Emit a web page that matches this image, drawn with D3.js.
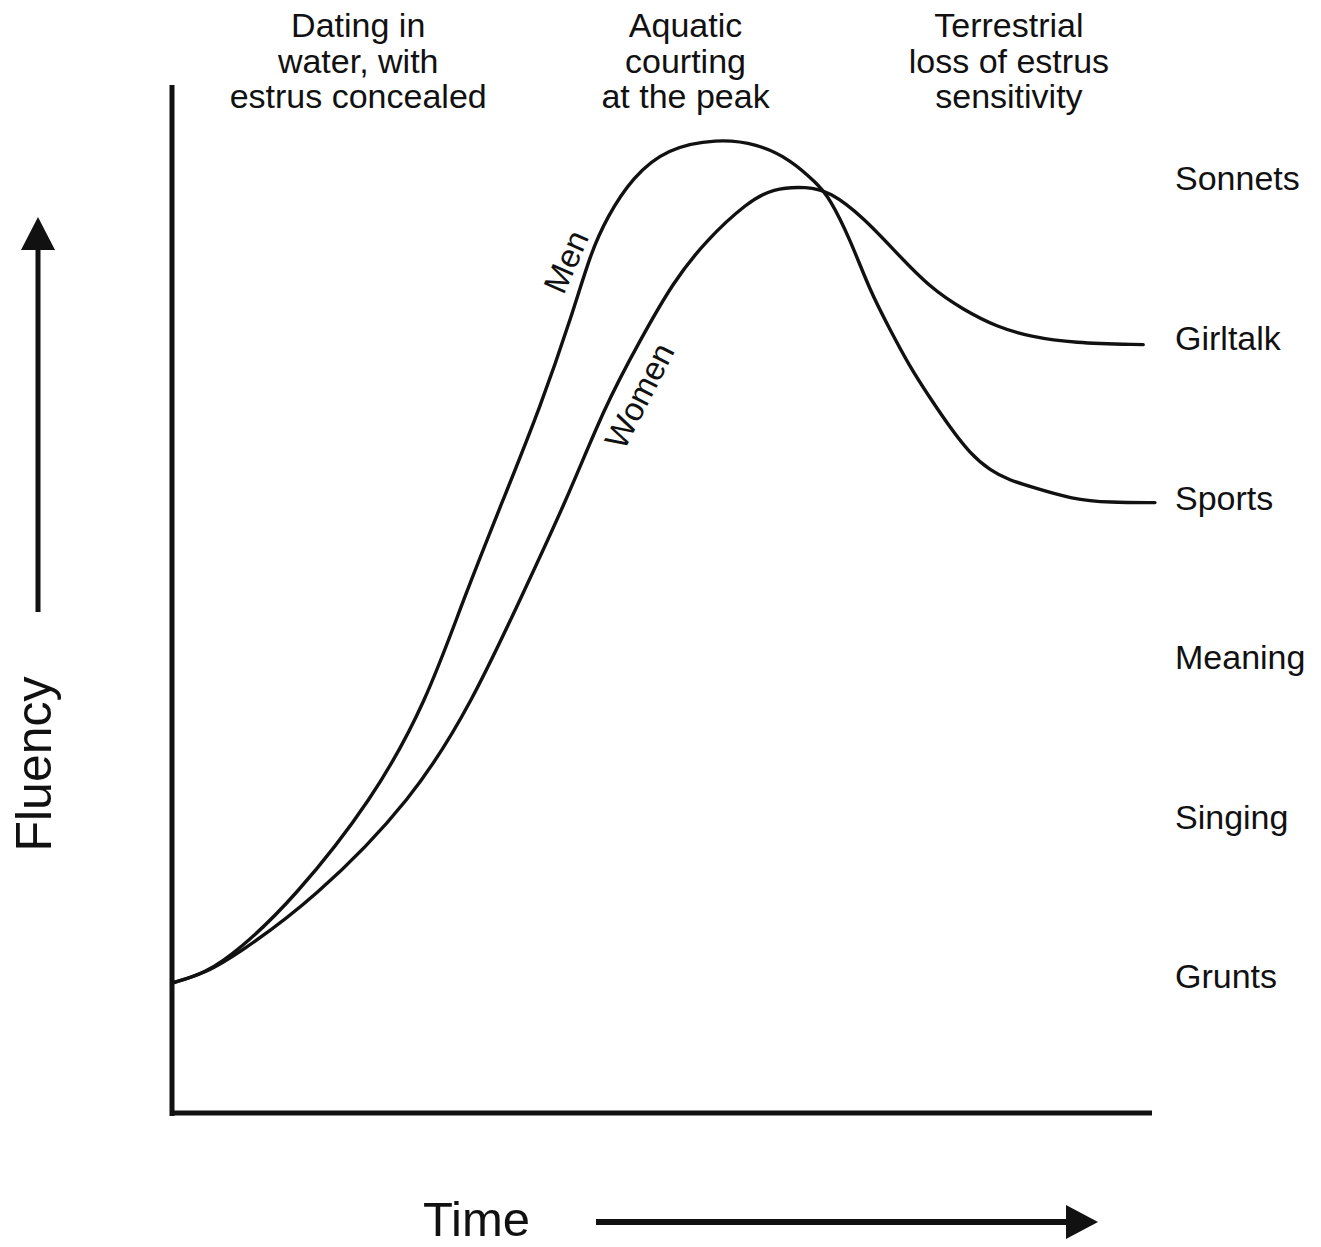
<!DOCTYPE html>
<html>
<head>
<meta charset="utf-8">
<script src="https://cdn.jsdelivr.net/npm/d3@7"></script>
<style>
  body { margin: 0; background: #fff; }
  text { font-family: "Liberation Sans", Arial, sans-serif; fill: #111; }
</style>
</head>
<body>
<svg id="chart" width="1321" height="1247"></svg>
<script>
// fluency levels, bottom to top
const levels = ["Grunts", "Singing", "Meaning", "Sports", "Girltalk", "Sonnets"];

// time (0-100) and fluency (level units)
const menTime = [0, 3.4, 6.9, 12.3, 20.5, 26.0, 29.7, 33.8, 37.6, 40.9, 42.7, 44.4, 47.0, 50.5, 55.6,
  59.7, 63.1, 65.8, 67.1, 69.2, 71.2, 73.3, 75.3, 77.3, 79.4, 81.4, 83.5, 85.5, 87.6, 91.9, 95.7, 100.3];
const menFluency = [1.00, 1.06, 1.21, 1.52, 2.15, 2.77, 3.40, 4.03, 4.61, 5.20, 5.57, 5.80, 6.05, 6.23, 6.29,
  6.26, 6.16, 6.01, 5.92, 5.66, 5.34, 5.09, 4.86, 4.67, 4.48, 4.32, 4.21, 4.15, 4.11, 4.03, 4.01, 4.01];

const womenTime = [0, 3.4, 6.9, 14.4, 24.6, 30.7, 35.5, 40.3, 44.2, 47.8, 51.1, 54.6, 58.7, 61.3, 64.8,
  67.1, 70.5, 74.0, 77.3, 80.7, 84.2, 87.6, 91.9, 99.1];
const womenFluency = [1.00, 1.06, 1.19, 1.52, 2.15, 2.77, 3.40, 4.03, 4.62, 5.03, 5.39, 5.66, 5.89, 5.98, 5.99,
  5.96, 5.80, 5.57, 5.36, 5.22, 5.11, 5.05, 5.01, 5.00];

// phase notes along the top
const phaseTime = [19.0, 52.4, 85.4];
const phaseLines = [
  ["Dating in", "water, with", "estrus concealed"],
  ["Aquatic", "courting", "at the peak"],
  ["Terrestrial", "loss of estrus", "sensitivity"]
];

// curve names written along the curves
const curveNames = ["Men", "Women"];
const curveNameTime = [40.2, 47.7];
const curveNameFluency = [5.52, 4.68];

const svg = d3.select("#chart");

const x = d3.scaleLinear().domain([0, 100]).range([172, 1152]);
const y = d3.scaleLinear().domain([1, 6]).range([983, 185]);

// frame
svg.append("line")
  .attr("x1", 172).attr("x2", 172).attr("y1", 85).attr("y2", 1116)
  .attr("stroke", "#111").attr("stroke-width", 5);

const xAxis = svg.append("g")
  .attr("transform", "translate(0,1113)")
  .call(d3.axisBottom(x).tickValues([]).tickSizeOuter(0));
xAxis.select(".domain")
  .attr("stroke", "#111").attr("stroke-width", 5)
  .attr("d", "M170,0H" + x(100));

// curves
const line = d3.line()
  .x(d => x(d[0]))
  .y(d => y(d[1]))
  .curve(d3.curveBasis);

const series = [d3.zip(menTime, menFluency), d3.zip(womenTime, womenFluency)];

svg.selectAll(".curve")
  .data(series)
  .join("path")
  .attr("class", "curve")
  .attr("d", line)
  .attr("fill", "none")
  .attr("stroke", "#111")
  .attr("stroke-width", 3.4)
  .attr("stroke-linecap", "round");

// names on the curves
svg.selectAll(".curveName")
  .data(curveNames)
  .join("text")
  .attr("class", "curveName")
  .attr("transform", (d, i) => "translate(" + x(curveNameTime[i]) + "," + y(curveNameFluency[i]) + ") rotate(" + (i == 0 ? -66 : -63) + ")")
  .attr("text-anchor", "middle")
  .attr("dy", "0.35em")
  .style("font-size", "33px")
  .text(d => d);

// level labels on the right
const yAxis = svg.append("g")
  .attr("transform", "translate(1175,-6)")
  .call(d3.axisRight(y).tickValues(d3.range(1, 7)).tickFormat(d => levels[d - 1]).tickSize(0).tickPadding(0));
yAxis.select(".domain").remove();
yAxis.selectAll("text")
  .style("font-size", "34px")
  .style("font-family", "'Liberation Sans', Arial, sans-serif")
  .attr("fill", "#111");

// phase notes
const phases = svg.selectAll(".phase")
  .data(phaseLines)
  .join("text")
  .attr("class", "phase")
  .attr("text-anchor", "middle")
  .style("font-size", "34px");

phases.selectAll("tspan")
  .data((d, i) => d.map(t => ({ t: t, i: i })))
  .join("tspan")
  .attr("x", d => x(phaseTime[d.i]))
  .attr("y", (d, j) => 37 + j * 35.5)
  .text(d => d.t);

// Fluency title and arrow
svg.append("text")
  .attr("transform", "translate(51,764) rotate(-90)")
  .attr("text-anchor", "middle")
  .style("font-size", "50px")
  .text("Fluency");

svg.append("line")
  .attr("x1", 38).attr("x2", 38).attr("y1", 612).attr("y2", 244)
  .attr("stroke", "#111").attr("stroke-width", 5);
svg.append("path")
  .attr("d", "M38,217L21,250L55,250Z")
  .attr("fill", "#111");

// Time title and arrow
svg.append("text")
  .attr("x", 423).attr("y", 1236)
  .style("font-size", "49px")
  .text("Time");

svg.append("line")
  .attr("x1", 596).attr("x2", 1070).attr("y1", 1222).attr("y2", 1222)
  .attr("stroke", "#111").attr("stroke-width", 6);
svg.append("path")
  .attr("d", "M1098,1222L1066,1205L1066,1239Z")
  .attr("fill", "#111");
</script>
</body>
</html>
